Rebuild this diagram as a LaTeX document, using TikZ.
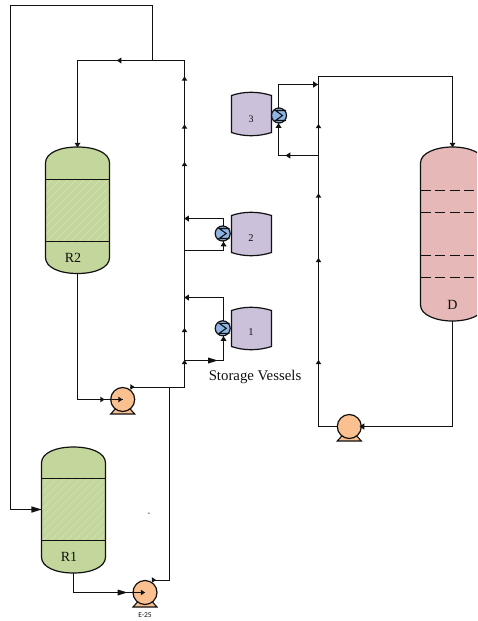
\documentclass[tikz,border=0pt]{standalone}
\usepackage{fontspec}
\setmainfont{Liberation Serif}
\newfontfamily\smallsans{Carlito}
\definecolor{reactor}{HTML}{C3D69B}
\definecolor{hatchc}{HTML}{D7E4BD}
\definecolor{column}{HTML}{E6B9B8}
\definecolor{tank}{HTML}{CCC1DA}
\definecolor{pumpc}{HTML}{FAC090}
\definecolor{hx}{HTML}{8DB4E2}
\definecolor{ink}{HTML}{111111}
\tikzset{
  pipe/.style={draw=ink,line width=1.2pt,line join=miter},
  shell/.style={draw=ink,line width=1.2pt},
  label/.style={inner sep=0pt,text=ink},
  pumpbody/.style={circle,draw=ink,line width=1.2pt,fill=pumpc,minimum size=24pt,inner sep=0pt,outer sep=0pt},
  hxbody/.style={circle,draw=ink,line width=1.2pt,fill=hx,minimum size=15pt,inner sep=0pt,outer sep=0pt},
  tipfill/.style={fill=ink,draw=none}
}
% short flat arrow head: x, y, angle, half width
\newcommand{\tipat}[4]{\fill[tipfill,shift={(#1,#2)},rotate=#3] (#4*0.75,0) -- (-#4*0.75,#4) -- (-#4*0.75,-#4) -- cycle;}
% long arrow head: x, y, angle, half width
\newcommand{\longtip}[4]{\fill[tipfill,shift={(#1,#2)},rotate=#3] (#4*1.6,0) -- (-#4*1.6,#4) -- (-#4*1.6,-#4) -- cycle;}
% reactor: name, left, right, top, bottom, band1, band2
\newcommand{\reactor}[7]{
  \path[fill=reactor] (#2,#4+16) .. controls (#2,#4+6) and (#2+14,#4) .. ({(#2+#3)/2},#4) .. controls (#3-14,#4) and (#3,#4+6) .. (#3,#4+16)
     -- (#3,#5-16) .. controls (#3,#5-6) and (#3-14,#5) .. ({(#2+#3)/2},#5) .. controls (#2+14,#5) and (#2,#5-6) .. (#2,#5-16) -- cycle;
  \begin{scope}
    \clip (#2,#6) rectangle (#3,#7);
    \foreach \k in {-72,-64,...,72}{
      \draw[hatchc,line width=0.5pt] ({(#2+#3)/2+\k-31},#7) -- ({(#2+#3)/2+\k+31},#6);
    }
  \end{scope}
  \path[shell] (#2,#4+16) .. controls (#2,#4+6) and (#2+14,#4) .. ({(#2+#3)/2},#4) .. controls (#3-14,#4) and (#3,#4+6) .. (#3,#4+16)
     -- (#3,#5-16) .. controls (#3,#5-6) and (#3-14,#5) .. ({(#2+#3)/2},#5) .. controls (#2+14,#5) and (#2,#5-6) .. (#2,#5-16) -- cycle;
  \draw[shell] (#2,#6) -- (#3,#6) (#2,#7) -- (#3,#7);
  \coordinate (#1top) at ({(#2+#3)/2},#4);
  \coordinate (#1bot) at ({(#2+#3)/2},#5);
}
% tank: name, top, bottom
\newcommand{\tankshape}[3]{
  \path[shell,fill=tank] (231.5,#2+3.5) .. controls (244,#2-0.8) and (258,#2-0.8) .. (271.5,#2+3.5) -- (271.5,#3-3.5) .. controls (258,#3+0.8) and (244,#3+0.8) .. (231.5,#3-3.5) -- cycle;
  \coordinate (#1c) at (251,{(#2+#3)/2});
}
% heat exchanger: name, x, y
\newcommand{\hxshape}[3]{
  \node[hxbody] (#1) at (#2,#3) {};
  \draw[ink,line width=1.1pt] (#2+7,#3-5) -- (#2-3.5,#3-5) -- (#2+3.5,#3) -- (#2-3.5,#3+5) -- (#2+7,#3+5);
}
% pump: name, x, y
\newcommand{\pumpshape}[3]{
  \path[fill=pumpc,draw=ink,line width=1.1pt] (#2-12,#3+14.5) -- (#2-7,#3+9) -- (#2+7,#3+9) -- (#2+12,#3+14.5) -- cycle;
  \node[pumpbody] (#1) at (#2,#3) {};
}
\begin{document}
\begin{tikzpicture}[x=1pt,y=-1pt]
\useasboundingbox (0,0) rectangle (477,621);
\fill[white] (0,0) rectangle (477,621);

% ---- free junctions
\coordinate (loopA) at (10.5,5.5);
\coordinate (loopB) at (152.5,5.5);
\coordinate (loopC) at (152.5,60.5);
\coordinate (loopD) at (10.5,509.5);
\coordinate (topL) at (77.5,60.5);
\coordinate (topR) at (184.5,60.5);
\coordinate (mainB) at (184.5,387.5);
\coordinate (j25) at (169.5,387.5);
\coordinate (e25up) at (169.5,580.5);
\coordinate (distTL) at (318.5,76.5);
\coordinate (distTR) at (452.5,76.5);
\coordinate (distBL) at (318.5,426.5);
\coordinate (distBR) at (452.5,426.5);

% ---- vessels
\begin{scope}
\clip (0,0) rectangle (477,621);
\path[fill=column] (420.5,163) .. controls (420.5,153) and (436,147) .. (452.5,147) .. controls (469,147) and (484.5,153) .. (484.5,163)
  -- (484.5,305) .. controls (484.5,315) and (469,321) .. (452.5,321) .. controls (436,321) and (420.5,315) .. (420.5,305) -- cycle;
\draw[shell] (420.5,163) .. controls (420.5,153) and (436,147) .. (452.5,147) .. controls (469,147) and (484.5,153) .. (484.5,163)
  -- (484.5,305) .. controls (484.5,315) and (469,321) .. (452.5,321) .. controls (436,321) and (420.5,315) .. (420.5,305) -- cycle;
\draw[ink,line width=1.2pt,dash pattern=on 10pt off 4.5pt] (420.5,190.5) -- (477,190.5) (420.5,212.5) -- (477,212.5) (420.5,255.5) -- (477,255.5) (420.5,277.5) -- (477,277.5);
\coordinate (Dtop) at (452.5,147);
\coordinate (Dbot) at (452.5,321);
\end{scope}
\reactor{Rtwo}{45.5}{109.5}{147}{273.5}{179.5}{241.5}
\reactor{Rone}{41.5}{105.5}{447}{573}{478.5}{540.5}
\coordinate (Rin) at (41.5,509.5);

\tankshape{T3}{92}{136}
\tankshape{T2}{212}{256}
\tankshape{T1}{307}{350}

% ---- pipes
\draw[pipe] (loopC) -- (loopB) -- (loopA) -- (loopD) -- (Rin);
\draw[pipe] (Rtwotop) -- (topL) -- (topR) -- (mainB) -- (j25);

\coordinate (h2t) at (223.5,218.5); \coordinate (h2tL) at (184.5,218.5);
\coordinate (h2b) at (223.5,250.5); \coordinate (h2bL) at (184.5,250.5);
\coordinate (h1t) at (223.5,297.5); \coordinate (h1tL) at (184.5,297.5);
\coordinate (h1b) at (223.5,360.5); \coordinate (h1bL) at (184.5,360.5);
\coordinate (h3t) at (278.5,84.5);  \coordinate (h3tR) at (318.5,84.5);
\coordinate (h3b) at (278.5,155.5); \coordinate (h3bR) at (318.5,155.5);

\hxshape{X3}{279}{115.5}
\hxshape{X2}{222.7}{233.5}
\hxshape{X1}{222.7}{328.3}
\draw[pipe] (X2.north -| h2t) -- (h2t) -- (h2tL);
\draw[pipe] (X2.south -| h2b) -- (h2b) -- (h2bL);
\draw[pipe] (X1.north -| h1t) -- (h1t) -- (h1tL);
\draw[pipe] (X1.south -| h1b) -- (h1b) -- (h1bL);
\draw[pipe] (X3.north -| h3t) -- (h3t) -- (h3tR);
\draw[pipe] (X3.south -| h3b) -- (h3b) -- (h3bR);

\pumpshape{P1}{122.7}{399.5}
\pumpshape{P2}{145}{592.5}
\pumpshape{P3}{349.3}{426.5}
\coordinate (p1c) at (77.5,399.5);
\coordinate (p2c) at (73.5,592.5);
\coordinate (p1o) at (130,387.5);
\coordinate (p2o) at (152,580.5);
\draw[pipe] (Rtwobot) -- (p1c) -- (P1.center);
\draw[pipe] (p1o) -- (j25);
\draw[pipe] (j25) -- (e25up) -- (p2o);
\draw[pipe] (Ronebot) -- (p2c) -- (P2.center);
\draw[pipe] (P3.west) -- (distBL) -- (distTL) -- (distTR) -- (Dtop);
\draw[pipe] (Dbot) -- (distBR) -- (P3.east);

% ---- arrow heads
\tipat{119}{60.5}{180}{3}
\tipat{77.5}{145}{-90}{3}
\foreach \y in {78.5,126.5,164,330,362}{\tipat{184.5}{\y}{90}{2.8}}
\tipat{186.5}{218.5}{180}{3}
\tipat{223.5}{244}{90}{3}
\tipat{186.5}{297.5}{180}{3}
\tipat{223.5}{338.5}{90}{3}
\longtip{213}{360.5}{0}{3}
\tipat{278.5}{125.5}{90}{3}
\tipat{288}{155.5}{180}{3.2}
\tipat{315.5}{84.5}{0}{3.2}
\foreach \y in {126,195.5,260,362}{\tipat{318.5}{\y}{90}{2.8}}
\tipat{452.5}{145}{-90}{3}
\tipat{362}{426.5}{180}{3.2}
\tipat{102.5}{399.5}{0}{2.8}
\tipat{120.5}{399.5}{0}{2.8}
\tipat{132.5}{387}{0}{2.8}
\tipat{154}{580}{0}{2.8}
\longtip{122.5}{592.5}{0}{3}
\tipat{143}{592.5}{0}{2.8}
\longtip{36.5}{509.5}{0}{3.2}

% ---- labels
\node[label,font=\fontsize{14}{14}\selectfont] (lR2) at (73,258) {R2};
\node[label,font=\fontsize{14}{14}\selectfont] (lR1) at (69,557) {R1};
\node[label,font=\fontsize{14}{14}\selectfont] (lD) at (452.5,305) {D};
\node[label,font=\fontsize{10}{10}\selectfont] (l3) at (251,119) {3};
\node[label,font=\fontsize{10.5}{10.5}\selectfont] (l2) at (251,238) {2};
\node[label,font=\fontsize{10.5}{10.5}\selectfont] (l1) at (251,332) {1};
\node[label,font=\fontsize{14.8}{14.8}\selectfont] (lS) at (255,377) {Storage Vessels};
\node[label,font=\smallsans\fontsize{7.5}{7.5}\selectfont] (lE) at (145,615.5) {E-25};
\node[label,font=\fontsize{8}{8}\selectfont] (ldash) at (149,514.5) {-};
\end{tikzpicture}
\end{document}
